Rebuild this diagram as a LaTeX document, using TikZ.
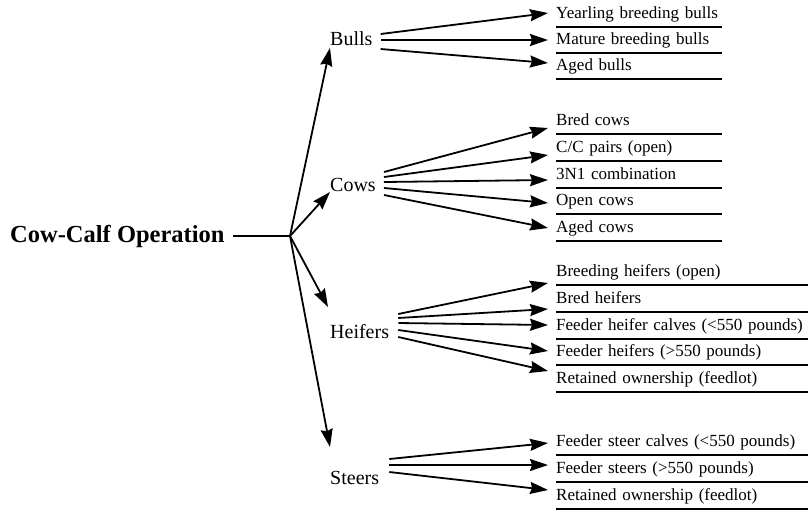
\documentclass[tikz,border=0pt]{standalone}
\usepackage{fontspec}
\setmainfont{Liberation Serif}
\usetikzlibrary{arrows.meta}
\begin{document}
\begin{tikzpicture}[
    x=1pt, y=-1pt,
    every node/.style={inner sep=0pt},
    link/.style={line width=1.8pt, -{Stealth[length=18pt,width=12pt,inset=2pt]}},
    root/.style={anchor=west, font=\fontsize{24.5}{27}\selectfont\bfseries},
    branch/.style={anchor=west, font=\fontsize{20}{22}\selectfont},
    leaf/.style={anchor=south west, font=\fontsize{17}{19}\selectfont,
        text height=12pt, text depth=4pt, inner ysep=4.5pt, align=left},
    rule/.style={line width=1.6pt}
  ]
  \useasboundingbox (0,0) rectangle (810,512);

  % root and the four classes
  \node[root] (op) at (10,236) {Cow-Calf Operation};
  \coordinate (hub) at (290,236);
  \draw[line width=1.8pt] ([xshift=8pt]op.east) -- (hub);

  \node[branch] (bulls) at (330,39) {Bulls};
  \node[branch] (cows) at (330,185) {Cows};
  \node[branch] (heifers) at (330,332) {Heifers};
  \node[branch] (steers) at (330,478) {Steers};

  \draw[link] (hub) -- ([yshift=-9pt]bulls.west);
  \draw[link] (hub) -- ([yshift=-7pt]cows.west);
  \draw[link] (hub) -- ([xshift=-2pt,yshift=25pt]heifers.west);
  \draw[link] (hub) -- ([yshift=31pt]steers.west);

  % bulls
  \foreach \txt/\ly/\sy/\ty [count=\i] in {
      Yearling breeding bulls/27/5/14,
      Mature breeding bulls/53/-1/13,
      Aged bulls/79/-10/16} {
    \node[leaf, text width=166pt] (bull\i) at (556,\ly) {\txt};
    \draw[rule] (bull\i.south west) -- (bull\i.south east);
    \draw[link] ([xshift=8pt,yshift=\sy pt]bulls.east) -- ([xshift=-8pt,yshift=\ty pt]bull\i.south west);
  }

  % cows
  \foreach \txt/\ly/\sy/\ty [count=\i] in {
      Bred cows/134/13/6,
      {C/C pairs (open)}/161/8/6,
      3N1 combination/188/3/8,
      Open cows/214/-3/11,
      Aged cows/241/-10/13} {
    \node[leaf, text width=166pt] (cow\i) at (556,\ly) {\txt};
    \draw[rule] (cow\i.south west) -- (cow\i.south east);
    \draw[link] ([xshift=8pt,yshift=\sy pt]cows.east) -- ([xshift=-8pt,yshift=\ty pt]cow\i.south west);
  }

  % heifers
  \foreach \txt/\ly/\sy/\ty [count=\i] in {
      Breeding heifers (open)/285/18/2,
      Bred heifers/312/14/3,
      Feeder heifer calves (<550 pounds)/339/9/14,
      Feeder heifers (>550 pounds)/365/2/14,
      Retained ownership (feedlot)/392/-5/21} {
    \node[leaf, text width=252pt] (heifer\i) at (556,\ly) {\txt};
    \draw[rule] (heifer\i.south west) -- (heifer\i.south east);
    \draw[link] ([xshift=9pt,yshift=\sy pt]heifers.east) -- ([xshift=-8pt,yshift=\ty pt]heifer\i.south west);
  }

  % steers
  \foreach \txt/\ly/\sy/\ty [count=\i] in {
      Feeder steer calves (<550 pounds)/455/19/12,
      Feeder steers (>550 pounds)/482/13/17,
      Retained ownership (feedlot)/509/6/19} {
    \node[leaf, text width=252pt] (steer\i) at (556,\ly) {\txt};
    \draw[rule] (steer\i.south west) -- (steer\i.south east);
    \draw[link] ([xshift=10pt,yshift=\sy pt]steers.east) -- ([xshift=-8pt,yshift=\ty pt]steer\i.south west);
  }
\end{tikzpicture}
\end{document}
